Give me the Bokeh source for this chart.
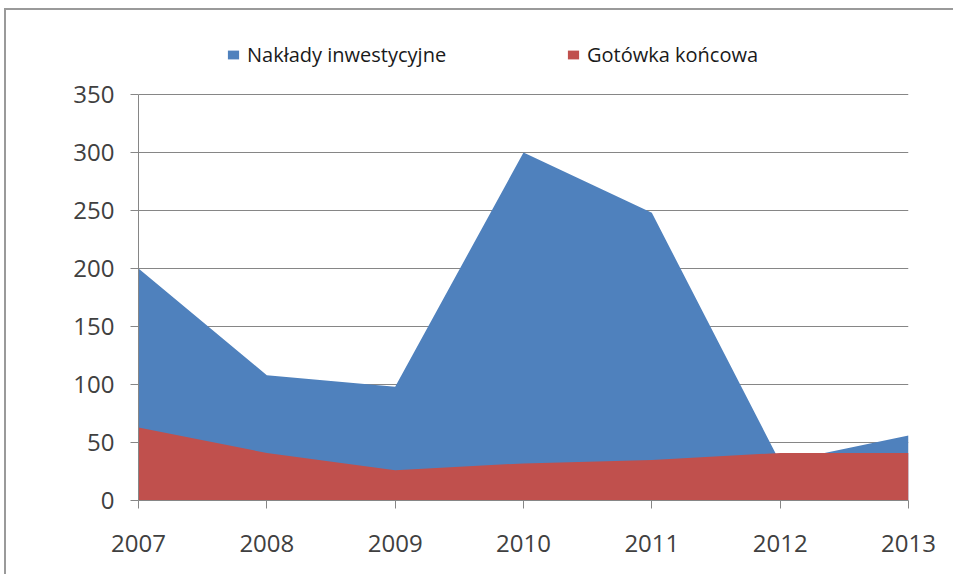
from bokeh.plotting import figure
from bokeh.models import Range1d, FixedTicker, Legend, LegendItem
from bokeh.embed import file_html
from bokeh.resources import INLINE

years = [2007, 2008, 2009, 2010, 2011, 2012, 2013]
naklady = [200, 108, 98, 300, 248, 33, 56]
gotowka = [63, 41, 26, 32, 35, 41, 41]
y_ticks = [0, 50, 100, 150, 200, 250, 300, 350]
series_names = ["Nakłady inwestycyjne", "Gotówka końcowa"]

BLUE = "#4F81BD"
RED = "#C0504D"
GRID = "#868686"
FONT = "Open Sans"

# plot area: 406 px for 0..350, plus 54 px of headroom that holds the legend
AXIS_PX = 406
HEAD_PX = 54
FRAME_H = AXIS_PX + HEAD_PX
y_top = y_ticks[-1] * FRAME_H / AXIS_PX

p = figure(frame_width=770, frame_height=FRAME_H,
           min_border_left=132, min_border_right=45,
           min_border_top=30, min_border_bottom=74,
           output_backend="svg", toolbar_location=None,
           x_range=Range1d(years[0], years[-1]), y_range=Range1d(0, y_top))
p.background_fill_color = "white"
p.border_fill_color = "white"
p.outline_line_color = None
p.styles = {"border-left": "2px solid #9a9a9a", "border-top": "2px solid #9a9a9a",
            "margin-left": "4px", "margin-top": "8px"}

r1 = p.varea(x=years, y1=[0] * len(years), y2=naklady, fill_color=BLUE)
r2 = p.varea(x=years, y1=[0] * len(years), y2=gotowka, fill_color=RED)

p.xgrid.grid_line_color = None
p.ygrid.ticker = FixedTicker(ticks=y_ticks)
p.ygrid.grid_line_color = GRID
p.ygrid.grid_line_width = 1

for ax in (p.xaxis[0], p.yaxis[0]):
    ax.axis_line_color = GRID
    ax.major_tick_line_color = GRID
    ax.major_tick_out = 8
    ax.major_tick_in = 0
    ax.minor_tick_line_color = None
    ax.major_label_text_font = FONT
    ax.major_label_text_font_size = "24px"
    ax.major_label_text_color = "#404040"

p.xaxis[0].ticker = FixedTicker(ticks=years)
p.xaxis[0].major_label_standoff = 26
p.yaxis[0].ticker = FixedTicker(ticks=y_ticks)
p.yaxis[0].bounds = (y_ticks[0], y_ticks[-1])
p.yaxis[0].major_label_standoff = 16

legend = Legend(items=[LegendItem(label=series_names[0], renderers=[r1]),
                       LegendItem(label=series_names[1], renderers=[r2])],
                location=(88, 432), orientation="horizontal",
                margin=0, padding=0, spacing=0, border_line_color=None,
                background_fill_alpha=0, glyph_width=14, glyph_height=11,
                label_standoff=7, label_width=319, label_text_font=FONT,
                label_text_font_size="20px", label_text_color="#1a1a1a")
p.add_layout(legend, "center")

open("out.html", "w").write(file_html(p, INLINE))
